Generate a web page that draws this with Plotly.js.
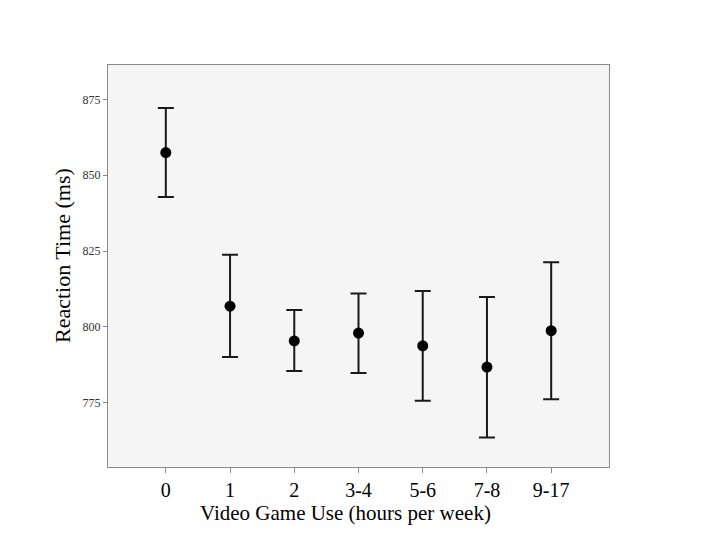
<!DOCTYPE html>
<html>
<head>
<meta charset="utf-8">
<script src="https://cdn.plot.ly/plotly-3.0.1.min.js"></script>
<style>html,body{margin:0;padding:0;background:#fff;}</style>
</head>
<body>
<div id="chart" style="width:720px;height:540px;"></div>
<script>
const categories = ["0", "1", "2", "3-4", "5-6", "7-8", "9-17"];
const meanRT = [857.5, 806.8, 795.3, 797.9, 793.7, 786.7, 798.7];
const errUpper = [14.7, 17.0, 10.2, 13.1, 18.1, 23.1, 22.6];
const errLower = [14.7, 16.8, 9.9, 13.2, 18.1, 23.3, 22.6];
const yTicks = [775, 800, 825, 850, 875];
const xTitle = "Video Game Use (hours per week)";
const yTitle = "Reaction Time (ms)";

const trace = {
  x: categories,
  y: meanRT,
  type: "scatter",
  mode: "markers",
  marker: {color: "#000000", size: 11},
  error_y: {
    type: "data",
    symmetric: false,
    array: errUpper,
    arrayminus: errLower,
    color: "#1a1a1a",
    thickness: 2,
    width: 8
  },
  showlegend: false,
  hoverinfo: "skip"
};

const serif = "Liberation Serif, Times New Roman, serif";

const layout = {
  width: 720,
  height: 540,
  margin: {l: 108, r: 111, t: 65, b: 73},
  paper_bgcolor: "#ffffff",
  plot_bgcolor: "#f5f5f5",
  font: {family: serif, color: "#000"},
  xaxis: {
    type: "category",
    range: [-0.9, 6.9],
    showgrid: false,
    zeroline: false,
    showline: true,
    linecolor: "#8a8a8a",
    linewidth: 1,
    mirror: true,
    ticks: "outside",
    ticklen: 5,
    tickcolor: "#8a8a8a",
    tickfont: {size: 20, family: serif, color: "#000"}
  },
  yaxis: {
    range: [753.7, 886.4],
    tickvals: yTicks,
    ticktext: yTicks.map(String),
    showgrid: false,
    zeroline: false,
    showline: true,
    linecolor: "#8a8a8a",
    linewidth: 1,
    mirror: true,
    ticks: "outside",
    ticklen: 4,
    tickcolor: "#8a8a8a",
    tickfont: {size: 12, family: serif, color: "#333"}
  },
  annotations: [
    {
      text: xTitle, xref: "paper", yref: "paper",
      x: 0.475, y: -0.114, xanchor: "center", yanchor: "middle",
      showarrow: false, font: {size: 21, family: serif, color: "#000"}
    },
    {
      text: yTitle, xref: "paper", yref: "paper", textangle: -90,
      x: -0.0898, y: 0.525, xanchor: "center", yanchor: "middle",
      showarrow: false, font: {size: 22, family: serif, color: "#000"}
    }
  ]
};

Plotly.newPlot("chart", [trace], layout, {displayModeBar: false, staticPlot: true});
</script>
</body>
</html>
